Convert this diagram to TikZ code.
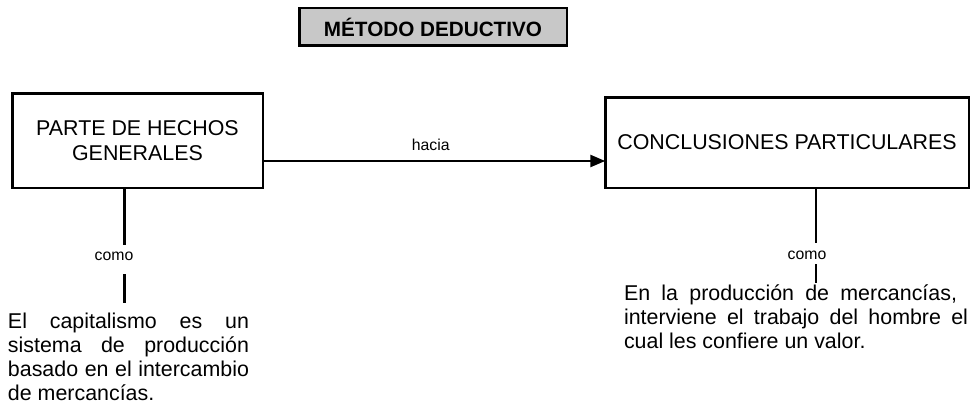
\documentclass[tikz,border=0pt]{standalone}
\usepackage{fontspec}
\setmainfont{Liberation Sans}
\usetikzlibrary{arrows.meta}
\definecolor{titlegray}{RGB}{200,200,200}
\begin{document}
\begin{tikzpicture}[x=1pt,y=-1pt,
  box/.style={draw=black, line width=2.5pt, fill=white, inner sep=0pt, outer sep=0pt,
    align=center, font=\fontsize{21.4}{25}\selectfont},
  titlebox/.style={draw=black, line width=2.5pt, fill=titlegray, inner sep=0pt, outer sep=0pt,
    font=\bfseries\fontsize{20.7}{24}\selectfont, minimum width=267.5pt, minimum height=37.5pt},
  lbl/.style={font=\fontsize{15.8}{18}\selectfont, inner sep=0pt},
  link/.style={line width=2.5pt},
  note/.style={inner sep=0pt, outer sep=0pt, align=left, font=\fontsize{21.4}{24}\selectfont}
]
\useasboundingbox (0,0) rectangle (971,404);

\node[titlebox] (title) at (433,27) {MÉTODO DEDUCTIVO};

\node[box, minimum width=250.5pt, minimum height=94.5pt] (lbox) at (137.5,140.5)
  {PARTE DE HECHOS\\GENERALES};
\node[box, minimum width=363.5pt, minimum height=90.5pt] (rbox) at (787,142.5)
  {CONCLUSIONES PARTICULARES};

% arrow
\coordinate (a1) at (263,161);
\draw[link, -{Triangle[length=15pt,width=12pt]}] (a1) -- (a1 -| rbox.west)
  node[lbl, pos=0.49, above=9pt] (hacia) {hacia};

% left branch
\coordinate (lx) at (124.5,0);
\node[lbl] (como1) at (114,256) {como};
\node[note, anchor=north west] (lnote) at (8,313)
  {\makebox[241pt][s]{El capitalismo es un}\\
   \makebox[241pt][s]{sistema de producción}\\
   \makebox[241pt][s]{basado en el intercambio}\\
   de mercancías.};
\draw[link] (lbox.south -| lx) -- (lx |- 0,245);
\draw[link] (lx |- 0,274) -- (lx |- 0,303);

% right branch
\coordinate (rx) at (816,0);
\node[lbl] (como2) at (807,255) {como};
\node[note, anchor=north west] (rnote) at (624,285)
  {\makebox[333pt][s]{En la producción de mercancías,}\\
   \makebox[344pt][s]{interviene el trabajo del hombre el}\\
   cual les confiere un valor.};
\draw[link] (rbox.south -| rx) -- (rx |- 0,243);
\draw[link] (rx |- 0,264) -- (rx |- 0,283);
\end{tikzpicture}
\end{document}
